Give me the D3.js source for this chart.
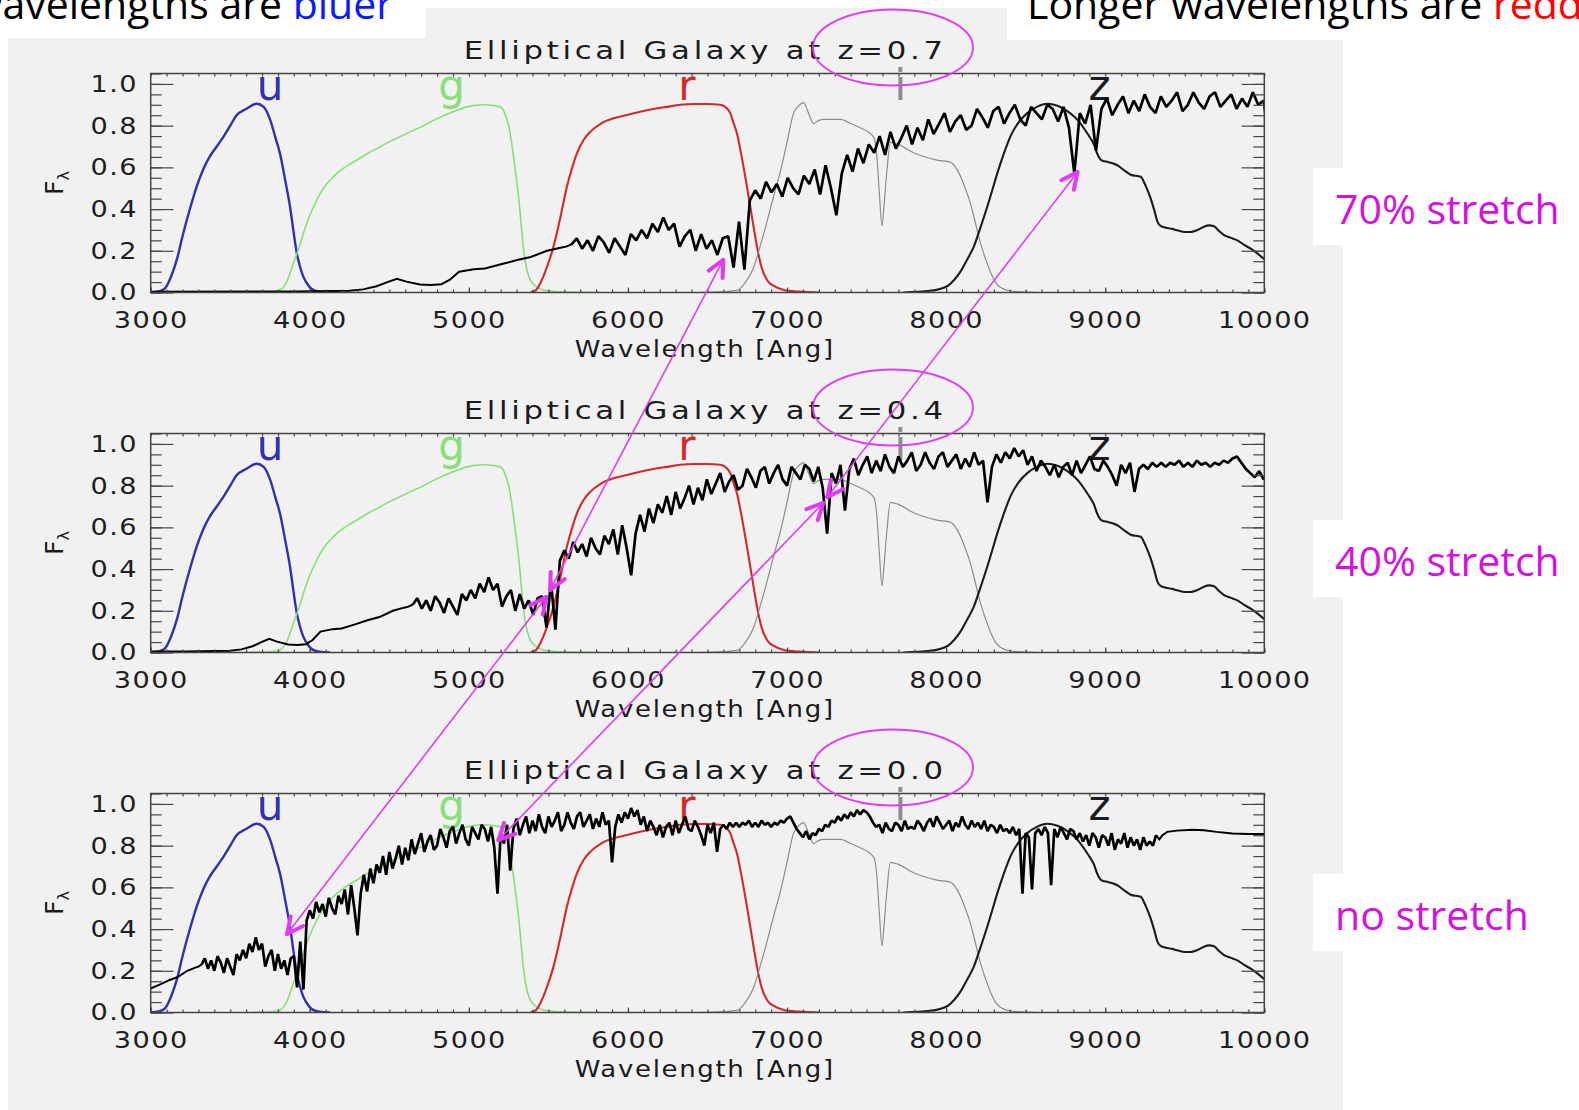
<!DOCTYPE html>
<html>
<head>
<meta charset="utf-8">
<script src="https://cdn.jsdelivr.net/npm/d3@7"></script>
<style>
  body { margin: 0; background: #fff; }
  svg { display: block; }
</style>
</head>
<body>
<div id="vis"></div>
<script>
// Constants for the figure
const FRAME_WIDTH = 1579;
const FRAME_HEIGHT = 1110;
const PLOT = {left: 150.7, top: 73.5, width: 1113.6, height: 219, step: 360};

// one panel per redshift, top to bottom
const REDSHIFTS = [0.7, 0.4, 0.0];
const STRETCH_LABELS = ["70% stretch", "40% stretch", "no stretch"];

const X_TICKS = [3000, 4000, 5000, 6000, 7000, 8000, 9000, 10000];
const Y_TICKS = [0.0, 0.2, 0.4, 0.6, 0.8, 1.0];

// filter transmission curves [wavelength, response]
const FILTER_NAMES = ["u", "g", "r", "i", "z"];
const FILTER_LABEL_WL = [3750, 4892, 6370, 7712, 8965];
const FILTER_U = [[3000,0.0],[3050,0.005],[3090,0.02],[3130,0.08],[3165,0.16],[3200,0.27],[3250,0.41],[3290,0.51],
  [3330,0.59],[3370,0.65],[3415,0.70],[3460,0.75],[3500,0.80],[3540,0.85],[3600,0.88],[3667,0.905],[3710,0.89],
  [3750,0.83],[3785,0.74],[3813,0.665],[3845,0.54],[3876,0.41],[3900,0.28],[3918,0.19],[3940,0.12],[3960,0.075],
  [3990,0.035],[4015,0.015],[4060,0.004],[4128,0.0]];
const FILTER_G = [[3625,0.0],[3750,0.003],[3813,0.012],[3860,0.06],[3897,0.14],[3930,0.21],[3960,0.284],[3990,0.35],
  [4023,0.41],[4055,0.46],[4086,0.50],[4130,0.54],[4170,0.571],[4230,0.605],[4296,0.635],[4360,0.665],[4421,0.69],
  [4480,0.715],[4547,0.74],[4630,0.77],[4715,0.80],[4790,0.83],[4862,0.855],[4930,0.875],[4987,0.89],[5092,0.90],
  [5197,0.89],[5225,0.86],[5250,0.80],[5290,0.60],[5320,0.40],[5345,0.20],[5380,0.07],[5420,0.03],[5480,0.01],
  [5600,0.002],[5826,0.0]];
const FILTER_R = [[5386,0.0],[5420,0.01],[5449,0.044],[5490,0.12],[5532,0.22],[5575,0.36],[5616,0.507],[5650,0.60],
  [5679,0.667],[5720,0.73],[5763,0.77],[5830,0.81],[5909,0.835],[6000,0.852],[6077,0.867],[6160,0.88],[6245,0.89],
  [6330,0.90],[6413,0.904],[6500,0.904],[6580,0.90],[6620,0.885],[6643,0.86],[6665,0.81],[6685,0.763],[6715,0.65],
  [6748,0.507],[6780,0.36],[6811,0.22],[6840,0.12],[6874,0.06],[6920,0.03],[6979,0.012],[7080,0.004],[7209,0.0]];
const FILTER_I = [[6434,0.0],[6600,0.004],[6685,0.01],[6740,0.05],[6790,0.12],[6830,0.22],[6874,0.34],[6915,0.46],
  [6958,0.58],[7000,0.72],[7041,0.86],[7080,0.90],[7104,0.91],[7135,0.86],[7167,0.81],[7200,0.825],[7230,0.83],
  [7335,0.83],[7400,0.81],[7461,0.79],[7545,0.745],[7565,0.65],[7580,0.48],[7597,0.32],[7610,0.42],[7625,0.56],
  [7650,0.72],[7700,0.71],[7796,0.67],[7943,0.635],[8026,0.625],[8060,0.60],[8089,0.56],[8120,0.50],[8152,0.43],
  [8185,0.33],[8215,0.24],[8248,0.16],[8278,0.10],[8310,0.05],[8341,0.025],[8425,0.005],[8594,0.0]];
const FILTER_Z = [[7730,0.0],[7900,0.008],[8006,0.03],[8050,0.06],[8090,0.10],[8130,0.155],[8174,0.22],[8215,0.31],
  [8258,0.41],[8290,0.49],[8321,0.57],[8360,0.66],[8405,0.75],[8450,0.81],[8510,0.86],[8570,0.89],[8636,0.905],
  [8700,0.895],[8762,0.87],[8810,0.84],[8845,0.81],[8890,0.76],[8929,0.71],[8950,0.665],[8975,0.635],[9020,0.625],
  [9076,0.61],[9120,0.585],[9160,0.565],[9223,0.555],[9255,0.51],[9286,0.45],[9310,0.39],[9328,0.34],[9350,0.318],
  [9370,0.313],[9420,0.305],[9454,0.298],[9500,0.29],[9537,0.29],[9580,0.30],[9621,0.315],[9650,0.322],[9684,0.318],
  [9715,0.295],[9747,0.275],[9790,0.262],[9831,0.25],[9870,0.23],[9915,0.21],[9960,0.185],[10000,0.16]];

// rest-frame galaxy spectrum: smooth blue end, noisy middle (flux x100), smooth red end
const SPEC_BLUE = [[1700,0.003],[2300,0.005],[2500,0.008],[2550,0.015],[2600,0.03],[2640,0.05],[2675,0.066],
  [2710,0.052],[2760,0.038],[2800,0.036],[2840,0.04],[2870,0.06],[2905,0.10],[2960,0.112],[3000,0.115],
  [3060,0.135],[3120,0.156],[3170,0.17],[3230,0.20],[3280,0.215],[3300,0.22]];
const SPEC_START = 3320;
const SPEC_STEP = 20;
const SPEC_NOISY = [
  23,26,21,25,
  20,27,24,19,26, 22,18,28,25,30, 26,33,29,36,30, 33,22,27,30,20, 28,21,25,18,26,
  27,12,34,11,44, 49,45,53,48,52, 46,55,50,47,56, 52,59,47,61,50, 37,57,66,58,69,
  62,71,67,75,66, 77,69,74,80,71, 79,73,83,76,81, 86,77,82,85,78, 80,88,84,79,87,
  89,81,86,90,83, 80,89,86,83,90, 88,82,89,79,57, 86,81,90,68,88, 93,85,90,94,86,
  92,87,95,89,86, 94,89,92,96,87, 90,96,91,88,94, 96,89,92,95,88, 93,89,96,90,92,
  72,89,95,91,96, 93,98,94,97,90, 94,87,92,89,85, 90,84,89,91,85, 92,86,90,94,88,
  87,92,89,85,80, 90,86,91,77,88, 90,88,91,89,91, 89,91,90,92,89, 91,89,92,90,91,
  89,91,90,92,91, 93,94,91,88,86, 84,87,83,86,85, 88,87,90,89,92, 91,94,92,95,93,
  96,94,97,95,97, 96,94,91,89,90, 86,91,88,87,91, 90,87,92,88,89, 88,92,90,87,91,
  93,89,94,91,88, 90,92,87,91,89, 94,90,88,92,89, 91,88,92,87,90, 89,86,90,87,88,
  86,89,85,88,57, 86,84,59,86,88, 85,89,86,61,88, 84,89,86,83,88, 87,83,86,82,85,
  80,86,84,79,85, 84,80,86,78,83, 81,86,79,84,80, 83,78,84,80,82,
  80,85];
const SPEC_RED = [[9340,0.83],[9360,0.85],[9390,0.866],[9450,0.872],[9550,0.876],[9620,0.874],[9700,0.866],
  [9800,0.858],[9900,0.856],[10000,0.856]];

// magenta arrows between the same features: [panel, observed wavelength, flux] at each end
const ARROWS = [
  [[0, 6599, 0.156], [1, 5511, 0.30]],
  [[0, 8826, 0.577], [1, 7253, 0.745]],
  [[2, 3857, 0.376], [1, 5487, 0.266]],
  [[2, 5186, 0.827], [1, 7228, 0.717]]
];

const FILTER_STYLE = {
  u: {color: "#3030b0", width: 2.4},
  g: {color: "#86e076", width: 1.6},
  r: {color: "#d22a2a", width: 2.1},
  i: {color: "#8c8c8c", width: 1.2},
  z: {color: "#1c1c1c", width: 2.1}
};
const MAGENTA = "#e23cf2";
const IDL_FONT = "'DejaVu Sans', sans-serif";

const FILTERS = [FILTER_U, FILTER_G, FILTER_R, FILTER_I, FILTER_Z];
const NOISY = SPEC_NOISY.map((v, i) => [SPEC_START + i * SPEC_STEP, v / 100]);
// smooth pieces join onto the first / last noisy sample
const SMOOTH_PARTS = [SPEC_BLUE.concat([NOISY[0]]), [NOISY[NOISY.length - 1]].concat(SPEC_RED)];

const SVG = d3.select("#vis")
  .append("svg")
  .attr("width", FRAME_WIDTH)
  .attr("height", FRAME_HEIGHT);

// gray slide image behind the plots
SVG.append("rect")
  .attr("x", 8).attr("y", 8)
  .attr("width", 1335).attr("height", FRAME_HEIGHT - 8)
  .attr("fill", "#f1f1f1");

const X_SCALE = d3.scaleLinear().domain([3000, 10000]).range([0, PLOT.width]);
const Y_SCALE = d3.scaleLinear().domain([0, 1.05]).range([PLOT.height, 0]);

const filterLine = d3.line()
  .x(d => X_SCALE(d[0]))
  .y(d => Y_SCALE(d[1]))
  .curve(d3.curveMonotoneX);

// the IDL vector font is wide: stretch the glyphs a bit
function widen(sel, factor) {
  sel.each(function() {
    const L = this.getComputedTextLength();
    d3.select(this).attr("textLength", L * factor).attr("lengthAdjust", "spacingAndGlyphs");
  });
}

function styleAxis(g) {
  g.select(".domain").remove();
  g.selectAll(".tick line").attr("stroke", "#444").attr("stroke-width", 1.2);
  g.selectAll("text")
    .attr("fill", "#1e1e1e")
    .attr("font-family", IDL_FONT)
    .attr("font-size", 23)
    .attr("letter-spacing", "1.2px")
    .call(widen, 1.18);
}

REDSHIFTS.forEach((z, p) => {
  const top = PLOT.top + p * PLOT.step;
  const G = SVG.append("g").attr("transform", "translate(" + PLOT.left + "," + top + ")");

  G.append("clipPath").attr("id", "clip" + p)
    .append("rect").attr("width", PLOT.width).attr("height", PLOT.height);

  // filter curves
  FILTERS.forEach((f, k) => {
    const st = FILTER_STYLE[FILTER_NAMES[k]];
    G.append("path")
      .datum(f)
      .attr("d", filterLine)
      .attr("fill", "none")
      .attr("stroke", st.color)
      .attr("stroke-width", st.width)
      .attr("clip-path", "url(#clip" + p + ")");
    G.append("text")
      .attr("x", X_SCALE(FILTER_LABEL_WL[k]))
      .attr("y", 26.5)
      .attr("text-anchor", "middle")
      .attr("font-family", IDL_FONT)
      .attr("font-size", 42)
      .attr("fill", st.color)
      .text(FILTER_NAMES[k]);
  });

  // the spectrum, stretched by (1+z)
  const specX = d => X_SCALE(d[0] * (1 + z));
  const specY = d => Y_SCALE(d[1]);
  SMOOTH_PARTS.forEach(part => {
    G.append("path")
      .datum(part)
      .attr("d", d3.line().x(specX).y(specY))
      .attr("fill", "none")
      .attr("stroke", "#000")
      .attr("stroke-width", 2)
      .attr("clip-path", "url(#clip" + p + ")");
  });
  G.append("path")
    .datum(NOISY)
    .attr("d", d3.line().x(specX).y(specY))
    .attr("fill", "none")
    .attr("stroke", "#000")
    .attr("stroke-width", 2.7)
    .attr("stroke-linejoin", "bevel")
    .attr("clip-path", "url(#clip" + p + ")");

  // axes, IDL style with inward ticks on all four sides
  G.append("g").attr("transform", "translate(0," + PLOT.height + ")")
    .call(d3.axisBottom(X_SCALE).tickValues(d3.range(3000, 10001, 100)).tickSize(-3).tickFormat(""))
    .call(styleAxis);
  G.append("g").attr("transform", "translate(0," + PLOT.height + ")")
    .call(d3.axisBottom(X_SCALE).tickValues(X_TICKS).tickSize(-5).tickPadding(19).tickFormat(d3.format("d")))
    .call(styleAxis);
  G.append("g")
    .call(d3.axisTop(X_SCALE).tickValues(d3.range(3000, 10001, 100)).tickSize(-3).tickFormat(""))
    .call(styleAxis);
  G.append("g")
    .call(d3.axisLeft(Y_SCALE).tickValues(d3.range(0, 1.051, 0.05)).tickSize(-11).tickFormat(""))
    .call(styleAxis);
  G.append("g")
    .call(d3.axisLeft(Y_SCALE).tickValues(Y_TICKS).tickSize(-22.7).tickPadding(12.7).tickFormat(d3.format(".1f")))
    .call(styleAxis);
  G.append("g").attr("transform", "translate(" + PLOT.width + ",0)")
    .call(d3.axisRight(Y_SCALE).tickValues(d3.range(0, 1.051, 0.05)).tickSize(-11).tickFormat(""))
    .call(styleAxis);
  G.append("g").attr("transform", "translate(" + PLOT.width + ",0)")
    .call(d3.axisRight(Y_SCALE).tickValues(Y_TICKS).tickSize(-22.7).tickFormat(""))
    .call(styleAxis);

  G.append("rect")
    .attr("width", PLOT.width).attr("height", PLOT.height)
    .attr("fill", "none").attr("stroke", "#444").attr("stroke-width", 1.5);

  // titles and axis labels
  G.append("text")
    .attr("x", 313).attr("y", -14.5)
    .attr("font-family", IDL_FONT).attr("font-size", 25).attr("fill", "#1a1a1a")
    .attr("letter-spacing", "3px")
    .attr("textLength", 483).attr("lengthAdjust", "spacingAndGlyphs")
    .text("Elliptical Galaxy at z=" + z.toFixed(1));
  G.append("text")
    .attr("x", 424).attr("y", 283.5)
    .attr("font-family", IDL_FONT).attr("font-size", 23).attr("fill", "#1a1a1a")
    .attr("letter-spacing", "1.5px")
    .attr("textLength", 260).attr("lengthAdjust", "spacingAndGlyphs")
    .text("Wavelength [Ang]");
  const yl = G.append("text")
    .attr("transform", "translate(-88," + (PLOT.height / 2) + ") rotate(-90)")
    .attr("text-anchor", "middle")
    .attr("font-family", IDL_FONT).attr("font-size", 25).attr("fill", "#1a1a1a");
  yl.append("tspan").text("F");
  yl.append("tspan").attr("dy", 6).attr("font-size", 16).text("λ");

  // magenta ellipse around the redshift
  SVG.append("ellipse")
    .attr("cx", 893).attr("cy", top - 26)
    .attr("rx", 80).attr("ry", 38)
    .attr("fill", "none").attr("stroke", MAGENTA).attr("stroke-width", 1.8);

  // stretch label on a white box
  const by = [168, 520, 874][p];
  SVG.append("rect").attr("x", 1313).attr("y", by).attr("width", 266).attr("height", 77).attr("fill", "#fff");
  SVG.append("text")
    .attr("x", 1335).attr("y", by + 56)
    .attr("font-family", "'Open Sans', sans-serif").attr("font-size", 41)
    .attr("fill", "#d70fe0")
    .text(STRETCH_LABELS[p]);
});

// arrows linking the same absorption features
function toPx(end) {
  return [PLOT.left + X_SCALE(end[1]), PLOT.top + end[0] * PLOT.step + Y_SCALE(end[2])];
}
function arrowHead(tip, from) {
  const dx = from[0] - tip[0], dy = from[1] - tip[1];
  const len = Math.sqrt(dx * dx + dy * dy);
  const ux = dx / len, uy = dy / len;
  [-0.45, 0.45].forEach(a => {
    const c = Math.cos(a), s = Math.sin(a);
    SVG.append("line")
      .attr("x1", tip[0]).attr("y1", tip[1])
      .attr("x2", tip[0] + 18 * (ux * c - uy * s))
      .attr("y2", tip[1] + 18 * (ux * s + uy * c))
      .attr("stroke", MAGENTA).attr("stroke-width", 4).attr("stroke-linecap", "round");
  });
}
ARROWS.forEach(a => {
  const p1 = toPx(a[0]), p2 = toPx(a[1]);
  SVG.append("line")
    .attr("x1", p1[0]).attr("y1", p1[1]).attr("x2", p2[0]).attr("y2", p2[1])
    .attr("stroke", MAGENTA).attr("stroke-width", 1.6);
  arrowHead(p1, p2);
  arrowHead(p2, p1);
});

// slide captions at the top, cut by the page edges
SVG.append("rect").attr("x", 0).attr("y", 0).attr("width", 426).attr("height", 38).attr("fill", "#fff");
SVG.append("rect").attr("x", 1007).attr("y", 0).attr("width", 572).attr("height", 40).attr("fill", "#fff");
const left = SVG.append("text")
  .attr("x", 393).attr("y", 19).attr("text-anchor", "end")
  .attr("font-family", "'Open Sans', sans-serif").attr("font-size", 41).attr("fill", "#000");
left.append("tspan").text("Shorter wavelengths are ");
left.append("tspan").attr("fill", "#0a1aff").text("bluer");
const right = SVG.append("text")
  .attr("x", 1027).attr("y", 19)
  .attr("font-family", "'Open Sans', sans-serif").attr("font-size", 41).attr("fill", "#000");
right.append("tspan").text("Longer wavelengths are ");
right.append("tspan").attr("fill", "#ff0000").text("redder");
</script>
</body>
</html>
